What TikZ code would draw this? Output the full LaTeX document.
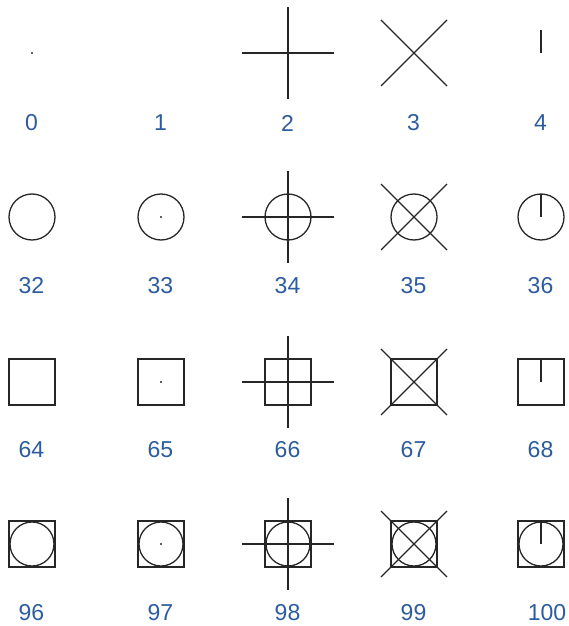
\documentclass[tikz,border=0pt]{standalone}
\usepackage{fontspec}
\setmainfont{Liberation Sans}
\usepackage{tikz}

\definecolor{codeblue}{RGB}{44,92,158}

\begin{document}
\begin{tikzpicture}[x=1pt, y=-1pt,
  heavy/.style={line width=1.8pt, draw=black!85},
  light/.style={line width=1.2pt, draw=black!85},
  code/.style={text=codeblue, font=\fontsize{23}{23}\selectfont, inner sep=0pt}]
  \useasboundingbox (0,0) rectangle (568,626);
  % grid of symbol centres and mode numbers
  \foreach \r/\ry/\ly in {0/53/123, 1/217/286, 2/382/450, 3/544/613} {
    \foreach \c/\cx in {0/32, 1/161, 2/288, 3/414, 4/541} {
      \coordinate (s\r\c) at (\cx,\ry);
      \pgfmathtruncatemacro\mode{32*\r+\c}
      \ifnum\mode=100
        \node[code] (n\r\c) at (\cx+6,\ly) {\mode};
      \else
        \node[code] (n\r\c) at (\cx-0.5,\ly) {\mode};
      \fi
    }
  }
  % base shapes: circle, square, square with circle
  \foreach \c in {0,...,4} {
    \draw[light, line width=1.3pt] (s1\c) circle (23pt);
    \draw[heavy] (s2\c) ++(-23,-23) rectangle ++(46,46);
    \draw[heavy] (s3\c) ++(-23,-23) rectangle ++(46,46);
    \draw[light, line width=1.3pt] (s3\c) circle (22pt);
  }
  % dots
  \fill[black!85] (s00) circle (1.2pt);
  \foreach \r in {1,2,3}
    \fill[black!85] (s\r1) circle (1.2pt);
  % crosses, x marks and ticks
  \foreach \r in {0,...,3} {
    \draw[heavy] (s\r2) ++(-46,0) -- ++(92,0)
                 (s\r2) ++(0,-46) -- ++(0,92);
    \draw[light] (s\r3) ++(-33,-33) -- ++(66,66)
                 (s\r3) ++(33,-33) -- ++(-66,66);
    \draw[heavy] (s\r4) -- ++(0,-23);
  }
\end{tikzpicture}
\end{document}
